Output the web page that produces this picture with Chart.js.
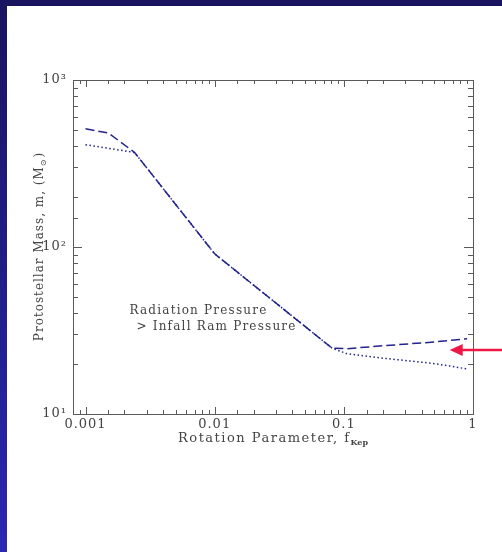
<!DOCTYPE html>
<html>
<head>
<meta charset="utf-8">
<script src="https://cdn.jsdelivr.net/npm/chart.js@4.4.1/dist/chart.umd.min.js"></script>
<style>
  html, body { margin: 0; padding: 0; background: #fff; }
  #page { position: relative; width: 502px; height: 552px; overflow: hidden; background: #fff; }
  #topBar { position: absolute; left: 0; top: 0; width: 502px; height: 6px; background: #18145f; }
  #leftBar { position: absolute; left: 0; top: 0; width: 7px; height: 552px;
             background: linear-gradient(to bottom, #18145f, #2a27b2); }
  #grafico { position: absolute; left: 0; top: 0; }
</style>
</head>
<body>
<div id="page">
  <div id="topBar"></div>
  <div id="leftBar"></div>
  <canvas id="grafico" width="502" height="552"></canvas>
</div>
<script>
// curva tracejada
const fKepTracejada = [0.001, 0.0015, 0.0024, 0.01, 0.081, 0.105, 0.2, 0.5, 0.9];
const massaTracejada = [510, 482, 368, 91, 24.8, 24.6, 25.6, 27.0, 28.2];
// curva pontilhada
const fKepPontilhada = [0.001, 0.0024, 0.01, 0.081, 0.105, 0.2, 0.46, 0.66, 0.9];
const massaPontilhada = [410, 368, 91, 24.8, 23.0, 21.6, 20.2, 19.4, 18.6];

const xTickValores = [0.001, 0.01, 0.1, 1];
const xTickTextos = ['0.001', '0.01', '0.1', '1'];
const yTickValores = [10, 100, 1000];
const yTickTextos = ['10\u00b9', '10\u00b2', '10\u00b3'];

const notaLinhas = ['Radiation Pressure', '> Infall Ram Pressure'];
const notaX = [0.00219, 0.00248];
const notaY = [41.4, 33.2];
const setaPonta = [0.66, 24.2];

const corCurva = '#23238e';
const corTexto = '#444444';
const fonte = '"DejaVu Serif", "Liberation Serif", serif';

function rotulo(valores, textos) {
  return function (v) {
    for (let i = 0; i < valores.length; i++) {
      if (Math.abs(v - valores[i]) < valores[i] * 1e-6) return textos[i];
    }
    return '';
  };
}

function ehMaior(v) {
  const l = Math.log10(v);
  return Math.abs(l - Math.round(l)) < 1e-6;
}

const molduraETicks = {
  id: 'molduraETicks',
  beforeDraw(chart) {
    // espaçamento largo como no original, vale para os rótulos dos ticks
    chart.ctx.letterSpacing = '1px';
  },
  afterDatasetsDraw(chart) {
    const { ctx, chartArea: a, scales: { x, y } } = chart;
    ctx.save();
    ctx.strokeStyle = '#5a5a5a';
    ctx.lineWidth = 1;
    ctx.strokeRect(Math.round(a.left) + 0.5, Math.round(a.top) + 0.5,
      Math.round(a.right - a.left), Math.round(a.bottom - a.top));
    ctx.beginPath();
    x.ticks.forEach(t => {
      const px = Math.round(x.getPixelForValue(t.value)) + 0.5;
      const len = ehMaior(t.value) ? 7 : 4;
      ctx.moveTo(px, a.bottom); ctx.lineTo(px, a.bottom - len);
      ctx.moveTo(px, a.top); ctx.lineTo(px, a.top + len);
    });
    y.ticks.forEach(t => {
      const py = Math.round(y.getPixelForValue(t.value)) + 0.5;
      const len = ehMaior(t.value) ? 9 : 5;
      ctx.moveTo(a.left, py); ctx.lineTo(a.left + len, py);
      ctx.moveTo(a.right, py); ctx.lineTo(a.right - len, py);
    });
    ctx.stroke();

    // textos
    ctx.fillStyle = corTexto;
    ctx.textBaseline = 'middle';
    ctx.textAlign = 'left';
    ctx.letterSpacing = '1.2px';
    ctx.font = '12px ' + fonte;
    notaLinhas.forEach((txt, i) => {
      ctx.fillText(txt, x.getPixelForValue(notaX[i]), y.getPixelForValue(notaY[i]));
    });

    // titulo eixo x com subscrito
    const cx = (a.left + a.right) / 2;
    const tx = 'Rotation Parameter, f';
    const sub = 'Kep';
    ctx.letterSpacing = '1.5px';
    ctx.font = '13px ' + fonte;
    const w1 = ctx.measureText(tx).width;
    ctx.letterSpacing = '0px';
    ctx.font = 'bold 8px ' + fonte;
    const w2 = ctx.measureText(sub).width;
    const sx = cx - (w1 + w2) / 2;
    ctx.letterSpacing = '1.5px';
    ctx.font = '13px ' + fonte;
    ctx.fillText(tx, sx, 439);
    ctx.letterSpacing = '0px';
    ctx.font = 'bold 8px ' + fonte;
    ctx.fillText(sub, sx + w1, 443);

    // titulo eixo y
    ctx.save();
    ctx.translate(40, (a.top + a.bottom) / 2);
    ctx.rotate(-Math.PI / 2);
    const ty1 = 'Protostellar Mass, m, (M';
    const tsub = '\u2299';
    const ty2 = ')';
    ctx.letterSpacing = '1px';
    ctx.font = '12px ' + fonte;
    const a1 = ctx.measureText(ty1).width;
    const a3 = ctx.measureText(ty2).width;
    ctx.font = '8px ' + fonte;
    const a2 = ctx.measureText(tsub).width;
    const yx = -(a1 + a2 + a3) / 2;
    ctx.font = '12px ' + fonte;
    ctx.fillText(ty1, yx, 0);
    ctx.font = '8px ' + fonte;
    ctx.fillText(tsub, yx + a1, 4);
    ctx.font = '12px ' + fonte;
    ctx.fillText(ty2, yx + a1 + a2 + 1, 0);
    ctx.restore();

    // seta vermelha
    const px = x.getPixelForValue(setaPonta[0]);
    const py = y.getPixelForValue(setaPonta[1]);
    ctx.strokeStyle = '#ee1846';
    ctx.fillStyle = '#ee1846';
    ctx.lineWidth = 2.5;
    ctx.beginPath();
    ctx.moveTo(px + 10, py);
    ctx.lineTo(chart.width, py);
    ctx.stroke();
    ctx.beginPath();
    ctx.moveTo(px, py);
    ctx.lineTo(px + 13, py - 6);
    ctx.lineTo(px + 13, py + 6);
    ctx.closePath();
    ctx.fill();
    ctx.restore();
  }
};

function pontos(xs, ys) {
  return xs.map((v, i) => ({ x: v, y: ys[i] }));
}

Chart.defaults.font.family = fonte;
Chart.defaults.color = corTexto;

new Chart(document.getElementById('grafico'), {
  type: 'line',
  data: {
    datasets: [
      {
        label: 'tracejada',
        data: pontos(fKepTracejada, massaTracejada),
        borderColor: corCurva,
        borderWidth: 1.5,
        borderDash: [9, 4],
        pointRadius: 0,
        tension: 0,
        fill: false
      },
      {
        label: 'pontilhada',
        data: pontos(fKepPontilhada, massaPontilhada),
        borderColor: corCurva,
        borderWidth: 1.5,
        borderDash: [1.5, 2.5],
        pointRadius: 0,
        tension: 0,
        fill: false
      }
    ]
  },
  options: {
    responsive: false,
    animation: false,
    layout: { padding: { top: 80, right: 29, bottom: 0, left: 0 } },
    plugins: {
      legend: { display: false },
      tooltip: { enabled: false }
    },
    scales: {
      x: {
        type: 'logarithmic',
        min: 0.0008,
        max: 1,
        grid: { display: false, drawTicks: false },
        border: { display: false },
        ticks: {
          autoSkip: false,
          maxRotation: 0,
          padding: 3,
          font: { size: 13 },
          callback: rotulo(xTickValores, xTickTextos)
        },
        afterFit(s) { s.height = 138; }
      },
      y: {
        type: 'logarithmic',
        min: 10,
        max: 1000,
        grid: { display: false, drawTicks: false },
        border: { display: false },
        ticks: {
          autoSkip: false,
          padding: 6,
          font: { size: 13 },
          callback: rotulo(yTickValores, yTickTextos)
        },
        afterFit(s) { s.width = 73; }
      }
    }
  },
  plugins: [molduraETicks]
});
</script>
</body>
</html>
